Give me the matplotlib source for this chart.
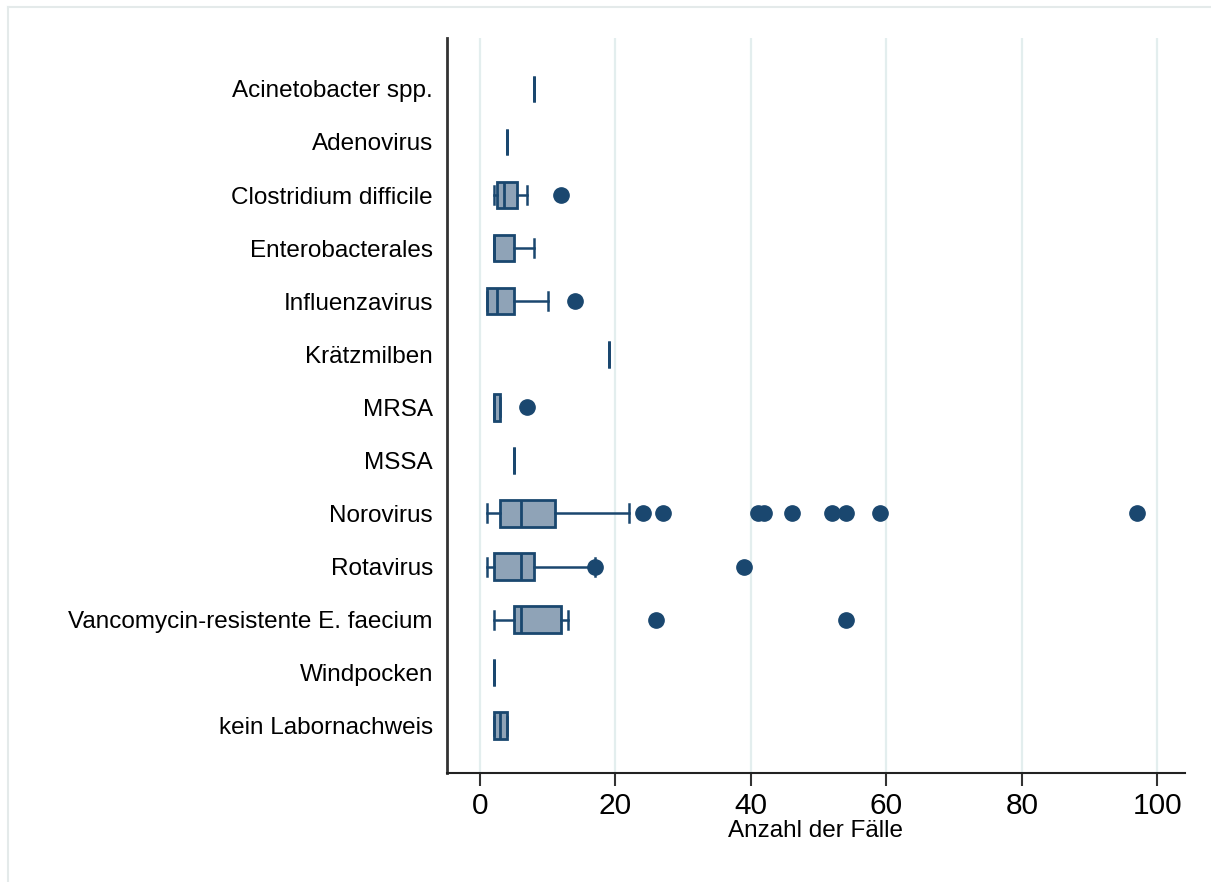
import matplotlib
matplotlib.use('Agg')
import matplotlib.pyplot as plt
from matplotlib.lines import Line2D

plt.rcParams['font.family'] = ['Liberation Sans', 'DejaVu Sans']

# Kategorien (von oben nach unten)
erreger = ['Acinetobacter spp.', 'Adenovirus', 'Clostridium difficile',
           'Enterobacterales', 'Influenzavirus', 'Krätzmilben', 'MRSA', 'MSSA',
           'Norovirus', 'Rotavirus', 'Vancomycin-resistente E. faecium',
           'Windpocken', 'kein Labornachweis']

# Boxplot-Kennwerte je Erreger
whisker_low = [8, 4, 2, 2, 1, 19, 2, 5, 1, 1, 2, 2, 2]
q1 = [8, 4, 2.5, 2, 1, 19, 2, 5, 3, 2, 5, 2, 2]
median = [8, 4, 3.5, 2, 2.5, 19, 2, 5, 6, 6, 6, 2, 3]
q3 = [8, 4, 5.5, 5, 5, 19, 3, 5, 11, 8, 12, 2, 4]
whisker_high = [8, 4, 7, 8, 10, 19, 3, 5, 22, 17, 13, 2, 4]
ausreisser = [[], [], [12], [], [14], [], [7], [],
              [24, 27, 41, 42, 46, 52, 54, 59, 97], [17, 39], [26, 54], [], []]

navy = '#1a476f'
fill = '#8fa3b7'
grid_c = '#e3eeee'

stats = []
for i in range(len(erreger)):
    stats.append(dict(whislo=whisker_low[i], q1=q1[i], med=median[i], q3=q3[i],
                      whishi=whisker_high[i], fliers=ausreisser[i]))

fig = plt.figure(figsize=(12.11, 8.82), dpi=100)
ax = fig.add_axes([0.369, 0.1236, 0.6095, 0.8334])

pos = list(range(len(erreger)))
ax.bxp(stats, positions=pos, vert=False, widths=0.5, patch_artist=True,
       capwidths=0.34,
       boxprops=dict(facecolor=fill, edgecolor=navy, linewidth=2),
       medianprops=dict(color=navy, linewidth=2),
       whiskerprops=dict(color=navy, linewidth=1.8),
       capprops=dict(color=navy, linewidth=1.8),
       flierprops=dict(marker='o', markerfacecolor=navy, markeredgecolor=navy,
                       markersize=11))

ax.set_ylim(12.89, -0.96)
ax.set_xlim(-4.9, 104.1)
ax.set_xticks([0, 20, 40, 60, 80, 100])
ax.set_yticks(pos)
ax.set_yticklabels(erreger, fontsize=17.5)
ax.tick_params(axis='y', length=0, pad=10)
ax.tick_params(axis='x', labelsize=21.5, length=9, width=1.5, color='#333333', pad=5)
ax.set_xlabel('Anzahl der Fälle', fontsize=17.5, labelpad=0)

ax.xaxis.grid(True, color=grid_c, linewidth=1.6)
ax.set_axisbelow(True)
for s in ['top', 'right']:
    ax.spines[s].set_visible(False)
ax.spines['left'].set_color('#333333')
ax.spines['left'].set_linewidth(2)
ax.spines['bottom'].set_color('#222222')
ax.spines['bottom'].set_linewidth(1.5)

# heller Rahmen oben und links
fig.add_artist(Line2D([0.007, 1.0], [1 - 7 / 882, 1 - 7 / 882], color='#e4eaea', linewidth=1.5))
fig.add_artist(Line2D([0.007, 0.007], [0, 1 - 7 / 882], color='#e4eaea', linewidth=1.5))

fig.savefig('out.png', dpi=100)
